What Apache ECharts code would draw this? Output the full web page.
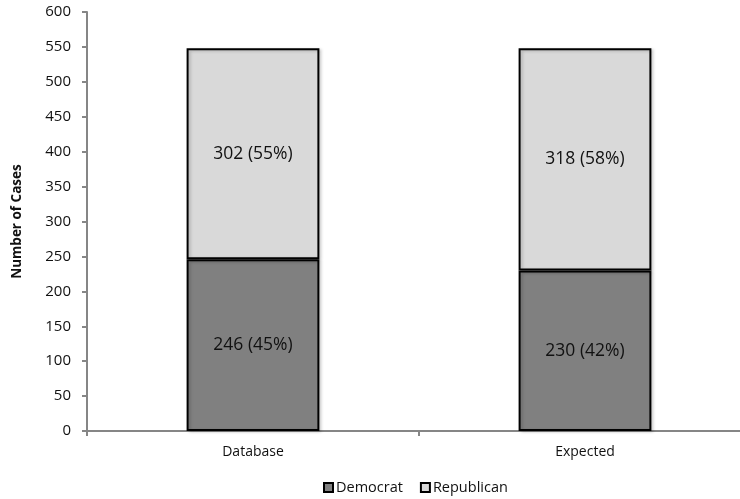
<!DOCTYPE html>
<html>
<head>
<meta charset="utf-8">
<script src="https://cdn.jsdelivr.net/npm/echarts@6/dist/echarts.min.js"></script>
<style>
  html, body { margin: 0; padding: 0; background: #fff; }
  #chart { width: 740px; height: 499px; }
</style>
</head>
<body>
<div id="chart"></div>
<script>
// Party of cases: database counts vs. expected counts
const categories = ['Database', 'Expected'];
const democrat = [246, 230];
const republican = [302, 318];
const yTicks = [0, 50, 100, 150, 200, 250, 300, 350, 400, 450, 500, 550, 600];

const FONT = '"Open Sans", "Liberation Sans", sans-serif';

function pctLabel(vals, other) {
  return function (p) {
    const total = vals[p.dataIndex] + other[p.dataIndex];
    const pct = Math.round(vals[p.dataIndex] / total * 100);
    return vals[p.dataIndex] + ' (' + pct + '%)';
  };
}

const chart = echarts.init(document.getElementById('chart'));
chart.setOption({
  animation: false,
  textStyle: { fontFamily: FONT },
  grid: { left: 87, top: 12, width: 664, height: 419, containLabel: false, outerBoundsMode: 'none' },
  xAxis: {
    type: 'category',
    data: categories,
    axisLine: { lineStyle: { color: '#868686', width: 2 } },
    axisTick: { show: true, alignWithLabel: false, length: 5, lineStyle: { color: '#868686', width: 2 } },
    axisLabel: { color: '#111', fontSize: 14, margin: 14, fontFamily: FONT }
  },
  yAxis: {
    type: 'value',
    min: yTicks[0],
    max: yTicks[yTicks.length - 1],
    interval: 50,
    name: 'Number of Cases',
    nameLocation: 'middle',
    nameGap: 63,
    nameTextStyle: { color: '#111', fontSize: 13.5, fontWeight: 'bold', fontFamily: FONT },
    axisLine: { show: true, lineStyle: { color: '#868686', width: 2 } },
    axisTick: { show: true, length: 5, lineStyle: { color: '#868686', width: 2 } },
    axisLabel: { color: '#111', fontSize: 15, margin: 16, fontFamily: FONT },
    splitLine: { show: false }
  },
  legend: {
    top: 475,
    left: 318,
    itemWidth: 9,
    itemHeight: 9,
    itemGap: 17,
    icon: 'rect',
    itemStyle: { borderColor: '#000', borderWidth: 2 },
    textStyle: { color: '#111', fontSize: 14.5, fontFamily: FONT, padding: [0, 0, 0, -2] },
    data: ['Democrat', 'Republican']
  },
  series: [
    {
      name: 'Democrat',
      type: 'bar',
      stack: 'total',
      barWidth: '40%',
      data: democrat,
      itemStyle: { color: '#808080', borderColor: '#000', borderWidth: 2,
        shadowColor: 'rgba(0,0,0,0.2)', shadowBlur: 3, shadowOffsetX: 2, shadowOffsetY: 1 },
      label: { show: true, position: 'inside', color: '#111', fontSize: 17.5, fontFamily: FONT,
        formatter: pctLabel(democrat, republican) }
    },
    {
      name: 'Republican',
      type: 'bar',
      stack: 'total',
      barWidth: '40%',
      data: republican,
      itemStyle: { color: '#d9d9d9', borderColor: '#000', borderWidth: 2,
        shadowColor: 'rgba(0,0,0,0.2)', shadowBlur: 3, shadowOffsetX: 2, shadowOffsetY: 1 },
      label: { show: true, position: 'inside', color: '#111', fontSize: 17.5, fontFamily: FONT,
        formatter: pctLabel(republican, democrat) }
    }
  ]
});
</script>
</body>
</html>
